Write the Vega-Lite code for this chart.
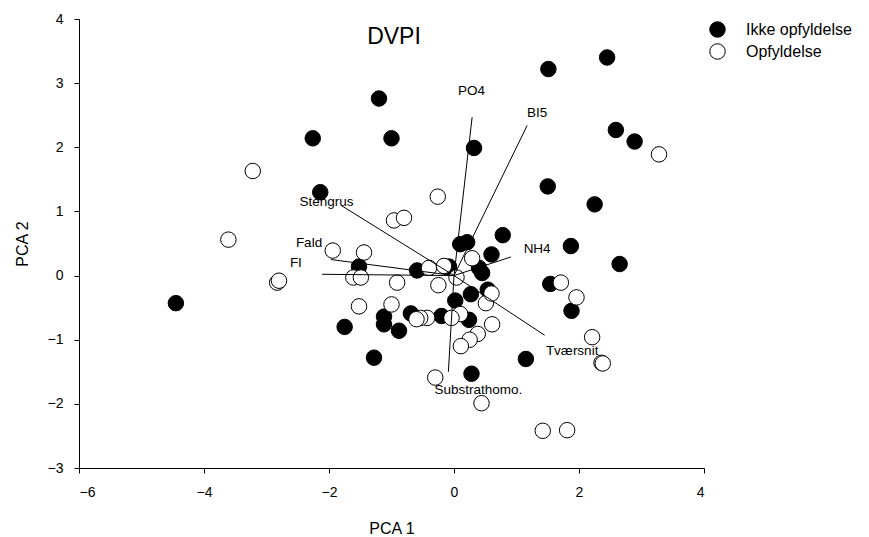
{
  "$schema": "https://vega.github.io/schema/vega-lite/v6.json",
  "width": 625,
  "height": 449,
  "autosize": "none",
  "padding": {"left": 79, "top": 19, "right": 165, "bottom": 69},
  "background": "white",
  "config": {
    "view": {"stroke": null},
    "font": "Liberation Sans",
    "axis": {
      "grid": false,
      "domainColor": "black",
      "tickColor": "black",
      "labelColor": "black",
      "titleColor": "black",
      "labelFont": "Liberation Sans",
      "titleFont": "Liberation Sans",
      "labelFontSize": 14,
      "titleFontSize": 16,
      "titleFontWeight": "normal",
      "tickSize": 5,
      "format": "d"
    }
  },
  "datasets": {
    "points": [
      {"pc1": -4.45, "pc2": -0.43, "status": "Ikke opfyldelse"},
      {"pc1": 2.45, "pc2": 3.40, "status": "Ikke opfyldelse"},
      {"pc1": 1.51, "pc2": 3.22, "status": "Ikke opfyldelse"},
      {"pc1": -1.20, "pc2": 2.76, "status": "Ikke opfyldelse"},
      {"pc1": -2.26, "pc2": 2.14, "status": "Ikke opfyldelse"},
      {"pc1": -1.00, "pc2": 2.14, "status": "Ikke opfyldelse"},
      {"pc1": -2.14, "pc2": 1.30, "status": "Ikke opfyldelse"},
      {"pc1": 0.32, "pc2": 1.99, "status": "Ikke opfyldelse"},
      {"pc1": 2.59, "pc2": 2.27, "status": "Ikke opfyldelse"},
      {"pc1": 2.89, "pc2": 2.09, "status": "Ikke opfyldelse"},
      {"pc1": 1.50, "pc2": 1.39, "status": "Ikke opfyldelse"},
      {"pc1": 2.25, "pc2": 1.11, "status": "Ikke opfyldelse"},
      {"pc1": 0.10, "pc2": 0.49, "status": "Ikke opfyldelse"},
      {"pc1": 0.21, "pc2": 0.52, "status": "Ikke opfyldelse"},
      {"pc1": 0.78, "pc2": 0.63, "status": "Ikke opfyldelse"},
      {"pc1": 0.60, "pc2": 0.33, "status": "Ikke opfyldelse"},
      {"pc1": 1.87, "pc2": 0.46, "status": "Ikke opfyldelse"},
      {"pc1": 2.65, "pc2": 0.18, "status": "Ikke opfyldelse"},
      {"pc1": 1.54, "pc2": -0.13, "status": "Ikke opfyldelse"},
      {"pc1": 1.88, "pc2": -0.55, "status": "Ikke opfyldelse"},
      {"pc1": 1.15, "pc2": -1.30, "status": "Ikke opfyldelse"},
      {"pc1": 0.28, "pc2": -1.53, "status": "Ikke opfyldelse"},
      {"pc1": 0.54, "pc2": -0.22, "status": "Ikke opfyldelse"},
      {"pc1": 0.27, "pc2": -0.29, "status": "Ikke opfyldelse"},
      {"pc1": 0.02, "pc2": -0.39, "status": "Ikke opfyldelse"},
      {"pc1": 0.24, "pc2": -0.69, "status": "Ikke opfyldelse"},
      {"pc1": -0.20, "pc2": -0.63, "status": "Ikke opfyldelse"},
      {"pc1": -0.69, "pc2": -0.59, "status": "Ikke opfyldelse"},
      {"pc1": -0.88, "pc2": -0.86, "status": "Ikke opfyldelse"},
      {"pc1": -1.12, "pc2": -0.64, "status": "Ikke opfyldelse"},
      {"pc1": -1.12, "pc2": -0.76, "status": "Ikke opfyldelse"},
      {"pc1": -1.75, "pc2": -0.80, "status": "Ikke opfyldelse"},
      {"pc1": -1.28, "pc2": -1.28, "status": "Ikke opfyldelse"},
      {"pc1": -1.52, "pc2": 0.14, "status": "Ikke opfyldelse"},
      {"pc1": -0.59, "pc2": 0.08, "status": "Ikke opfyldelse"},
      {"pc1": 0.40, "pc2": 0.12, "status": "Ikke opfyldelse"},
      {"pc1": 0.45, "pc2": 0.04, "status": "Ikke opfyldelse"},
      {"pc1": -0.08, "pc2": 0.14, "status": "Ikke opfyldelse"},
      {"pc1": 3.28, "pc2": 1.89, "status": "Opfyldelse"},
      {"pc1": -0.26, "pc2": 1.23, "status": "Opfyldelse"},
      {"pc1": -0.96, "pc2": 0.86, "status": "Opfyldelse"},
      {"pc1": -0.80, "pc2": 0.90, "status": "Opfyldelse"},
      {"pc1": -3.22, "pc2": 1.63, "status": "Opfyldelse"},
      {"pc1": -3.61, "pc2": 0.56, "status": "Opfyldelse"},
      {"pc1": -2.83, "pc2": -0.11, "status": "Opfyldelse"},
      {"pc1": -2.80, "pc2": -0.08, "status": "Opfyldelse"},
      {"pc1": -1.94, "pc2": 0.39, "status": "Opfyldelse"},
      {"pc1": -1.44, "pc2": 0.36, "status": "Opfyldelse"},
      {"pc1": -1.61, "pc2": -0.03, "status": "Opfyldelse"},
      {"pc1": -1.49, "pc2": -0.03, "status": "Opfyldelse"},
      {"pc1": -0.40, "pc2": 0.12, "status": "Opfyldelse"},
      {"pc1": -0.16, "pc2": 0.15, "status": "Opfyldelse"},
      {"pc1": -0.91, "pc2": -0.11, "status": "Opfyldelse"},
      {"pc1": -0.25, "pc2": -0.15, "status": "Opfyldelse"},
      {"pc1": 0.04, "pc2": -0.03, "status": "Opfyldelse"},
      {"pc1": 0.29, "pc2": 0.27, "status": "Opfyldelse"},
      {"pc1": 1.71, "pc2": -0.11, "status": "Opfyldelse"},
      {"pc1": 1.96, "pc2": -0.34, "status": "Opfyldelse"},
      {"pc1": 2.21, "pc2": -0.96, "status": "Opfyldelse"},
      {"pc1": 2.36, "pc2": -1.36, "status": "Opfyldelse"},
      {"pc1": 2.38, "pc2": -1.37, "status": "Opfyldelse"},
      {"pc1": 0.61, "pc2": -0.76, "status": "Opfyldelse"},
      {"pc1": 0.38, "pc2": -0.91, "status": "Opfyldelse"},
      {"pc1": 0.25, "pc2": -1.00, "status": "Opfyldelse"},
      {"pc1": 0.11, "pc2": -1.10, "status": "Opfyldelse"},
      {"pc1": 0.51, "pc2": -0.43, "status": "Opfyldelse"},
      {"pc1": 0.60, "pc2": -0.28, "status": "Opfyldelse"},
      {"pc1": 0.10, "pc2": -0.60, "status": "Opfyldelse"},
      {"pc1": -0.04, "pc2": -0.66, "status": "Opfyldelse"},
      {"pc1": -0.43, "pc2": -0.66, "status": "Opfyldelse"},
      {"pc1": -0.54, "pc2": -0.66, "status": "Opfyldelse"},
      {"pc1": -0.60, "pc2": -0.68, "status": "Opfyldelse"},
      {"pc1": -1.52, "pc2": -0.48, "status": "Opfyldelse"},
      {"pc1": -1.00, "pc2": -0.45, "status": "Opfyldelse"},
      {"pc1": -0.30, "pc2": -1.59, "status": "Opfyldelse"},
      {"pc1": 0.44, "pc2": -1.99, "status": "Opfyldelse"},
      {"pc1": 1.42, "pc2": -2.42, "status": "Opfyldelse"},
      {"pc1": 1.81, "pc2": -2.41, "status": "Opfyldelse"}
    ],
    "vectors": [
      {"var": "PO4", "ox": 0, "oy": 0, "vx": 0.29, "vy": 2.47, "lx": 0.28, "ly": 2.87},
      {"var": "BI5", "ox": 0, "oy": 0, "vx": 1.17, "vy": 2.34, "lx": 1.33, "ly": 2.54},
      {"var": "NH4", "ox": 0, "oy": 0, "vx": 0.91, "vy": 0.29, "lx": 1.33, "ly": 0.41},
      {"var": "Tværsnit", "ox": 0, "oy": 0, "vx": 1.45, "vy": -0.93, "lx": 1.89, "ly": -1.17},
      {"var": "Substrathomo.", "ox": 0, "oy": 0, "vx": -0.09, "vy": -1.50, "lx": 0.39, "ly": -1.78},
      {"var": "Stengrus", "ox": 0, "oy": 0, "vx": -1.80, "vy": 1.09, "lx": -2.04, "ly": 1.14},
      {"var": "Fald", "ox": 0, "oy": 0, "vx": -1.97, "vy": 0.25, "lx": -2.32, "ly": 0.51},
      {"var": "FI", "ox": 0, "oy": 0, "vx": -2.11, "vy": 0.02, "lx": -2.53, "ly": 0.19}
    ],
    "title": [{"t": "DVPI", "tx": -0.96, "ty": 3.61}]
  },
  "layer": [
    {
      "data": {"name": "points"},
      "mark": {"type": "point", "shape": "circle", "filled": true, "size": 240, "stroke": "black", "strokeWidth": 1, "opacity": 1},
      "encoding": {
        "x": {"field": "pc1", "type": "quantitative", "scale": {"domain": [-6, 4], "nice": false, "zero": false},
              "axis": {"values": [-6, -4, -2, 0, 2, 4], "title": "PCA 1", "labelPadding": 12, "titleX": 312.5, "titleY": 60, "titleBaseline": "middle", "titleAlign": "center"}},
        "y": {"field": "pc2", "type": "quantitative", "scale": {"domain": [-3, 4], "nice": false, "zero": false},
              "axis": {"values": [-3, -2, -1, 0, 1, 2, 3, 4], "title": "PCA 2", "labelPadding": 11, "titleX": -57, "titleY": 224.5, "titleAngle": -90, "titleBaseline": "middle", "titleAlign": "center"}},
        "fill": {"field": "status", "type": "nominal",
                 "scale": {"domain": ["Ikke opfyldelse", "Opfyldelse"], "range": ["black", "white"]},
                 "legend": {"title": null, "orient": "none", "legendX": 630, "legendY": 2, "padding": 0,
                            "symbolType": "circle", "symbolSize": 240, "symbolStrokeColor": "black", "symbolStrokeWidth": 1,
                            "labelFontSize": 16, "labelFont": "Liberation Sans", "labelColor": "black", "labelOffset": 20, "rowPadding": 1}}
      }
    },
    {
      "data": {"name": "vectors"},
      "mark": {"type": "rule", "color": "black", "strokeWidth": 1},
      "encoding": {
        "x": {"field": "ox", "type": "quantitative"},
        "y": {"field": "oy", "type": "quantitative"},
        "x2": {"field": "vx"},
        "y2": {"field": "vy"}
      }
    },
    {
      "data": {"name": "vectors"},
      "mark": {"type": "text", "fontSize": 13.5, "font": "Liberation Sans", "color": "black", "align": "center", "baseline": "middle"},
      "encoding": {
        "x": {"field": "lx", "type": "quantitative"},
        "y": {"field": "ly", "type": "quantitative"},
        "text": {"field": "var"}
      }
    },
    {
      "data": {"name": "title"},
      "mark": {"type": "text", "fontSize": 23, "font": "Liberation Sans", "color": "black", "align": "center", "baseline": "alphabetic"},
      "encoding": {
        "x": {"field": "tx", "type": "quantitative"},
        "y": {"field": "ty", "type": "quantitative"},
        "text": {"field": "t"}
      }
    }
  ]
}
